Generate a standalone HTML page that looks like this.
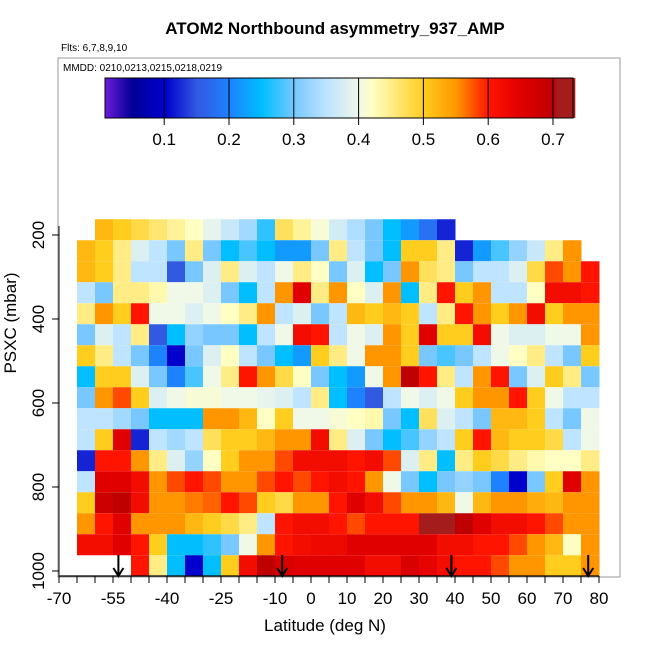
<!DOCTYPE html>
<html><head><meta charset="utf-8"><style>
body{margin:0;background:#fff;}
svg{display:block;font-family:"Liberation Sans",Arial,sans-serif;}
</style></head><body>
<svg id="chart" width="650" height="650" viewBox="0 0 650 650">
<text x="335" y="34" text-anchor="middle" font-size="17" font-weight="bold">ATOM2 Northbound asymmetry_937_AMP</text>
<text x="61" y="51" font-size="10">Flts: 6,7,8,9,10</text>
<rect x="58" y="58" width="562" height="519" fill="none" stroke="#999" stroke-width="1"/>
<text x="63" y="71" font-size="10">MMDD: 0210,0213,0215,0218,0219</text>
<g id="cbar"></g>
<g id="cells"></g>
<g id="axes"></g>
<text x="325" y="631" text-anchor="middle" font-size="17">Latitude (deg N)</text>
<text transform="translate(16,323) rotate(-90)" text-anchor="middle" font-size="17">PSXC (mbar)</text>
</svg>
<script>
const latBins=[-70,-65,-60,-55,-50,-45,-40,-35,-30,-25,-20,-15,-10,-5,0,5,10,15,20,25,30,35,40,45,50,55,60,65,70,75];
const pressureRows=[187.5,237.5,287.5,337.5,387.5,437.5,487.5,537.5,587.5,637.5,687.5,737.5,787.5,837.5,887.5,937.5,987.5];
const r0=[null,null,0.52,0.5,0.48,0.46,0.44,0.42,0.39,0.36,0.33,0.27,0.47,0.44,0.41,0.37,0.34,0.3,0.25,0.22,0.18,0.12,null,null,null,null,null,null,null,null];
const r1=[null,0.52,0.5,0.45,0.38,0.35,0.3,0.45,0.3,0.25,0.28,0.25,0.22,0.22,0.3,0.45,0.35,0.3,0.25,0.5,0.5,0.45,0.12,0.22,0.28,0.32,0.36,0.45,0.55,null];
const r2=[null,0.52,0.5,0.45,0.35,0.35,0.15,0.3,0.38,0.45,0.38,0.35,0.4,0.45,0.42,0.3,0.38,0.25,0.3,0.55,0.47,0.45,0.3,0.35,0.35,0.38,0.48,0.58,0.55,0.6];
const r3=[null,0.35,0.3,0.45,0.45,0.43,0.4,0.4,0.38,0.3,0.25,0.35,0.55,0.65,0.45,0.55,0.42,0.38,0.55,0.25,0.45,0.6,0.5,0.55,0.35,0.35,0.42,0.62,0.62,0.6];
const r4=[null,0.45,0.55,0.5,0.6,0.4,0.4,0.38,0.4,0.42,0.45,0.55,0.35,0.38,0.3,0.35,0.52,0.5,0.52,0.5,0.35,0.45,0.6,0.55,0.5,0.55,0.62,0.5,0.55,0.55];
const r5=[null,0.3,0.38,0.35,0.45,0.15,0.25,0.32,0.3,0.3,0.25,0.35,0.4,0.62,0.6,0.35,0.4,0.38,0.55,0.5,0.65,0.5,0.5,0.62,0.4,0.38,0.38,0.4,0.4,0.55];
const r6=[null,0.5,0.45,0.35,0.3,0.2,0.1,0.3,0.38,0.42,0.35,0.3,0.25,0.22,0.5,0.45,0.4,0.55,0.55,0.5,0.3,0.28,0.3,0.35,0.4,0.42,0.45,0.35,0.3,0.5];
const r7=[null,0.25,0.5,0.5,0.38,0.3,0.2,0.28,0.4,0.45,0.6,0.55,0.48,0.42,0.3,0.25,0.22,0.4,0.55,0.7,0.6,0.45,0.35,0.55,0.6,0.3,0.38,0.5,0.45,0.3];
const r8=[null,0.3,0.55,0.58,0.5,0.38,0.4,0.41,0.41,0.4,0.4,0.39,0.38,0.35,0.45,0.25,0.2,0.15,0.35,0.4,0.38,0.4,0.5,0.55,0.55,0.6,0.5,0.4,0.35,0.35];
const r9=[null,0.35,0.35,0.33,0.3,0.25,0.25,0.25,0.55,0.55,0.52,0.42,0.5,0.4,0.4,0.41,0.42,0.43,0.3,0.25,0.47,0.38,0.35,0.3,0.52,0.52,0.5,0.35,0.3,0.4];
const r10=[null,0.35,0.5,0.65,0.12,0.35,0.33,0.35,0.47,0.5,0.5,0.52,0.55,0.55,0.62,0.45,0.38,0.3,0.25,0.28,0.32,0.35,0.5,0.6,0.52,0.5,0.5,0.48,0.35,0.4];
const r11=[null,0.12,0.6,0.6,0.55,0.45,0.38,0.32,0.42,0.5,0.55,0.55,0.58,0.62,0.62,0.62,0.6,0.62,0.58,0.38,0.45,0.25,0.45,0.5,0.48,0.45,0.43,0.42,0.42,0.45];
const r12=[null,0.35,0.65,0.65,0.62,0.55,0.58,0.6,0.58,0.55,0.55,0.58,0.6,0.58,0.6,0.62,0.6,0.55,0.4,0.3,0.25,0.3,0.32,0.3,0.2,0.1,0.3,0.5,0.65,0.55];
const r13=[null,0.5,0.68,0.7,0.62,0.55,0.55,0.56,0.57,0.6,0.58,0.5,0.48,0.55,0.55,0.6,0.65,0.62,0.58,0.55,0.55,0.52,0.4,0.52,0.55,0.55,0.53,0.52,0.55,0.55];
const r14=[null,0.55,0.6,0.65,0.55,0.55,0.55,0.52,0.5,0.48,0.45,0.35,0.6,0.62,0.62,0.6,0.58,0.6,0.6,0.6,0.72,0.72,0.7,0.65,0.62,0.62,0.6,0.58,0.55,0.55];
const r15=[null,0.62,0.62,0.65,0.6,0.5,0.25,0.25,0.27,0.3,0.4,0.55,0.6,0.62,0.63,0.63,0.65,0.65,0.65,0.65,0.65,0.62,0.62,0.6,0.6,0.58,0.55,0.52,0.42,0.55];
const r16=[null,null,null,null,0.6,0.45,0.25,0.1,0.25,0.5,0.62,0.7,0.66,0.65,0.65,0.65,0.65,0.62,0.62,0.66,0.64,0.62,0.6,0.6,0.58,0.55,0.55,0.5,0.5,0.55];
const rowValues=[r0,r1,r2,r3,r4,r5,r6,r7,r8,r9,r10,r11,r12,r13,r14,r15,r16];
const xTicks=[-70,-55,-40,-25,-10,0,10,20,30,40,50,60,70,80];
const yTicks=[200,400,600,800,1000];
const cbTicks=[0.1,0.2,0.3,0.4,0.5,0.6,0.7];
const arrowLats=[-53.5,-8,39,77];

const NS="http://www.w3.org/2000/svg";
const xs=lat=>311+3.6*lat;
const ys=p=>151+0.42*p;
const cx=v=>99.4+648*v;
const stops=[[0,[128,32,230]],[0.05,[0,0,150]],[0.1,[0,0,205]],[0.15,[50,90,225]],[0.2,[30,130,255]],[0.25,[0,190,255]],[0.3,[120,200,255]],[0.35,[190,228,255]],[0.4,[240,248,232]],[0.42,[255,255,195]],[0.5,[255,205,30]],[0.55,[255,150,0]],[0.6,[255,20,0]],[0.65,[225,0,0]],[0.7,[190,0,0]],[0.705,[165,28,28]],[0.74,[165,28,28]]];
function col(v){
  for(let i=1;i<stops.length;i++){
    if(v<=stops[i][0]){const a=stops[i-1],b=stops[i];const t=(v-a[0])/(b[0]-a[0]);
      const c=a[1].map((x,k)=>Math.round(x+(b[1][k]-x)*t));return `rgb(${c[0]},${c[1]},${c[2]})`;}
  }
  return 'rgb(165,28,28)';
}
function mk(tag,attrs,parent){const e=document.createElementNS(NS,tag);for(const k in attrs)e.setAttribute(k,attrs[k]);parent.appendChild(e);return e;}

const cb=document.getElementById('cbar');
for(let v=0.0085;v<0.731;v+=0.0025){
  const r=mk('rect',{x:cx(v),y:78,width:648*0.0025+0.6,height:40,fill:col(v)},cb);
  
  
}
const cbo=mk('rect',{x:105,y:78,width:468,height:40,fill:'none',stroke:'#000','stroke-width':1},cb);


cbTicks.forEach(t=>{
  const l=mk('line',{x1:cx(t),x2:cx(t),y1:78,y2:125,stroke:'#000','stroke-width':1},cb);
  
  
  const tx=mk('text',{x:cx(t),y:145,'text-anchor':'middle','font-size':17},cb);
  tx.textContent=t.toFixed(1);
  
  
});

const cg=document.getElementById('cells');
rowValues.forEach((row,ri)=>{
  const p=pressureRows[ri];
  const y0=ys(p-25),y1=Math.min(ys(p+25),576);
  row.forEach((v,bi)=>{
    if(v===null)return;
    const x0=xs(latBins[bi]),x1=xs(latBins[bi]+5);
    const r=mk('rect',{x:x0,y:y0,width:x1-x0+0.5,height:y1-y0,fill:col(v)},cg);
    
    
  });
});

const ax=document.getElementById('axes');
mk('line',{x1:59,x2:599,y1:576,y2:576,stroke:'#000','stroke-width':1.2},ax);
mk('line',{x1:59,x2:59,y1:226,y2:576,stroke:'#333','stroke-width':1.2},ax);
for(let lat=-70;lat<=80;lat+=5){
  const t=mk('line',{x1:xs(lat),x2:xs(lat),y1:576,y2:583,stroke:'#000'},ax);
  
  
}
xTicks.forEach(lat=>{
  const tx=mk('text',{x:xs(lat),y:604,'text-anchor':'middle','font-size':17},ax);
  tx.textContent=String(lat);
  
  
});
yTicks.forEach(p=>{
  const t=mk('line',{x1:52,x2:59,y1:ys(p),y2:ys(p),stroke:'#000'},ax);
  
  
  const tx=mk('text',{'text-anchor':'middle','font-size':17,transform:`translate(44,${ys(p)}) rotate(-90)`},ax);
  tx.textContent=String(p);
  
  
});
arrowLats.forEach(lat=>{
  const x=xs(lat);
  const a=mk('path',{d:`M${x},555 L${x},576 M${x-5},568 L${x},576 L${x+5},568`,stroke:'#000','stroke-width':2,fill:'none'},ax);
  
  
});
</script>
</body></html>
